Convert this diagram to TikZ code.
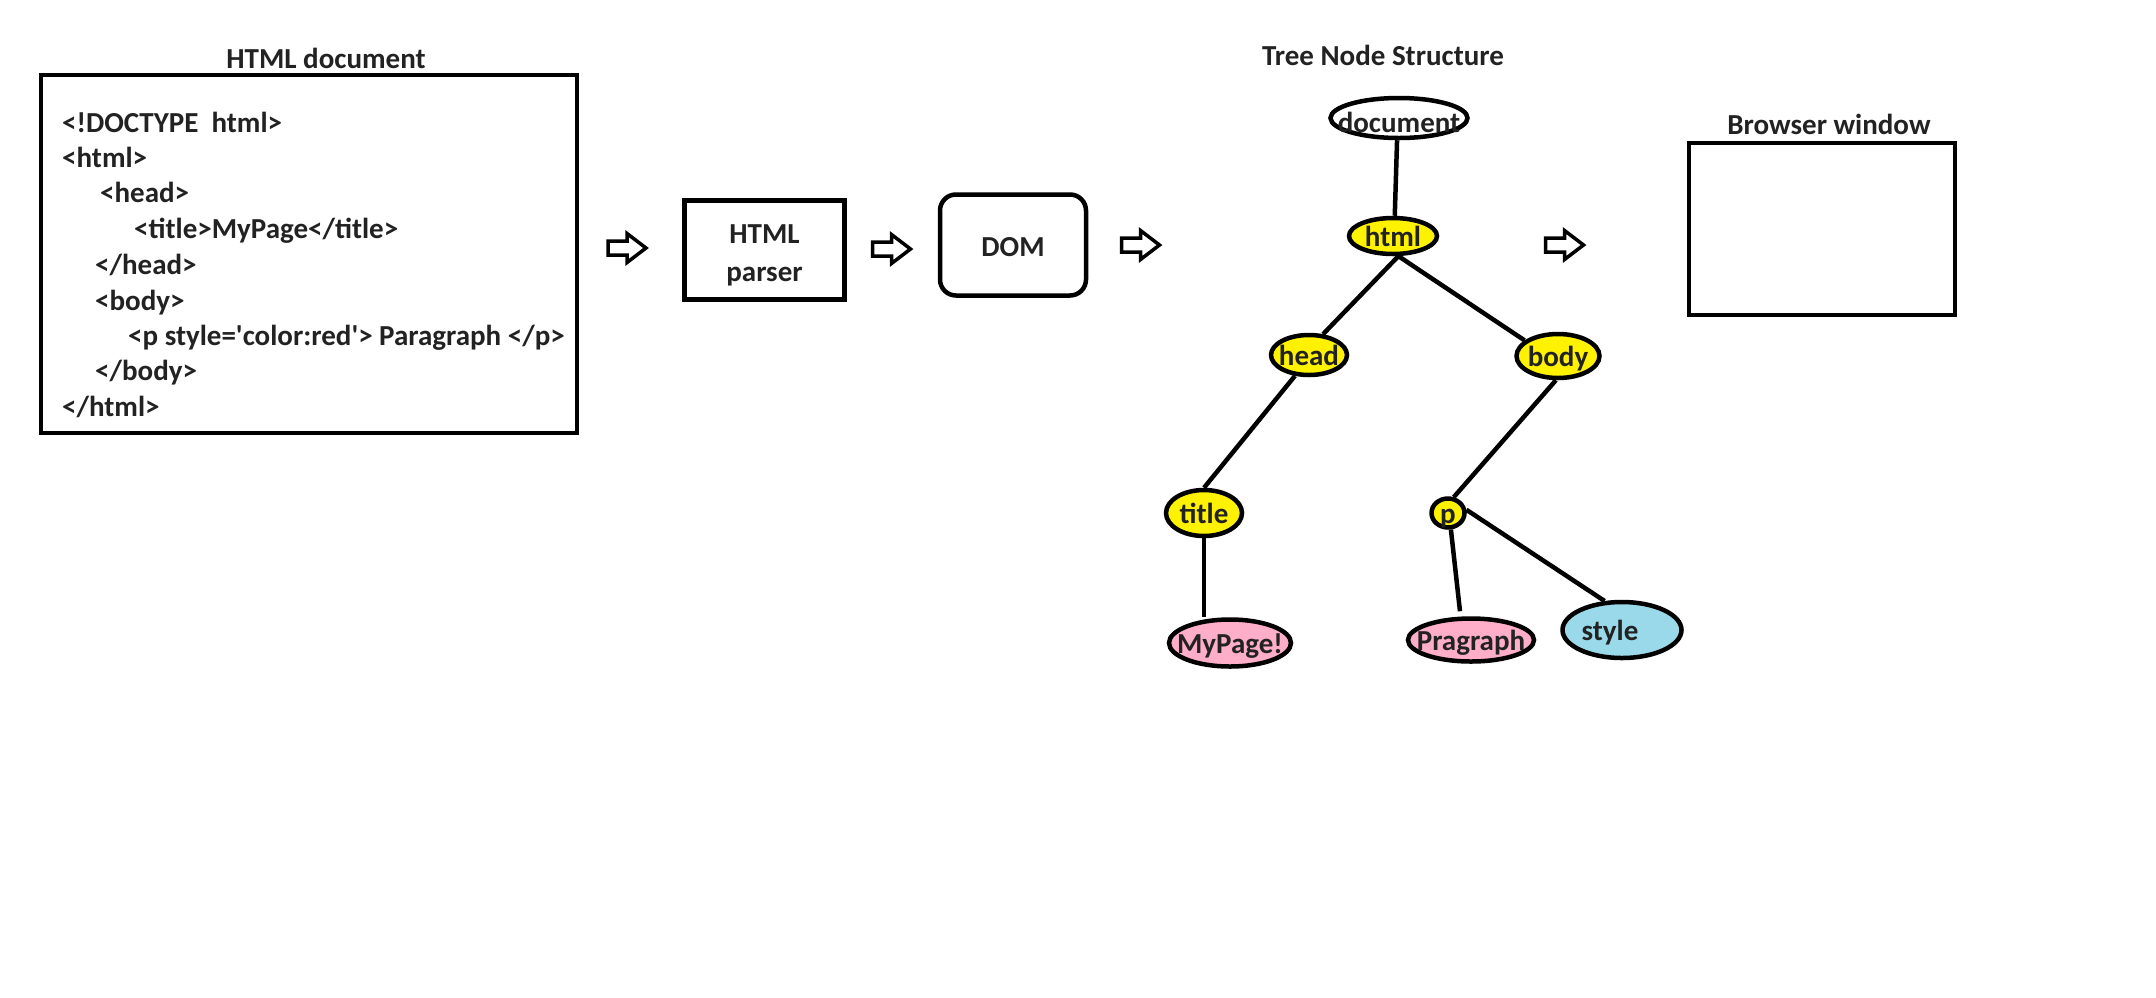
\documentclass[tikz,border=0pt]{standalone}
\usepackage{fontspec}
\setmainfont{Carlito}[Ligatures=TeXOff]
\usetikzlibrary{shapes.geometric}
\definecolor{nodeyellow}{HTML}{FFF200}
\definecolor{nodepink}{HTML}{FFAEC9}
\definecolor{nodeblue}{HTML}{99D9EA}
\definecolor{txt}{HTML}{222222}
\newcommand\tl[2][0pt]{\raisebox{-10pt}[0pt][0pt]{\makebox[0pt]{\hspace{#1}#2\hspace{-#1}}}}
\newcommand\blockarrow[2]{\draw[barrow] (#1,#2) ++(-19,-7) -- ++(19,0) -- ++(0,-7.5) -- ++(19,14.5) -- ++(-19,14.5) -- ++(0,-7.5) -- ++(-19,0) -- cycle;}
\begin{document}
\begin{tikzpicture}[x=1pt,y=-1pt,
  font=\fontsize{29}{34}\selectfont\bfseries, text=txt,
  box/.style={draw, line width=4.5pt, inner sep=0pt},
  tn/.style={ellipse, draw, line width=4.5pt, inner sep=0pt},
  ttl/.style={anchor=base, inner sep=0pt},
  codeline/.style={anchor=base west, inner sep=0pt},
  edge/.style={line width=4.5pt},
  barrow/.style={draw, line width=3.5pt, fill=white, line join=miter}]
\useasboundingbox[fill=white] (0,0) rectangle (2156,997);

% HTML document
\node[ttl] (doctitle) at (326,68) {HTML document};
\node[box, minimum width=536pt, minimum height=358pt] (htmldoc) at (309,254) {};
\node[codeline] (c1) at (62,132) {<!DOCTYPE\ \ html>};
\node[codeline] (c2) at (62,167) {<html>};
\node[codeline] (c3) at (100,202) {<head>};
\node[codeline] (c4) at (134,238) {<title>MyPage</title>};
\node[codeline] (c5) at (95,274) {</head>};
\node[codeline] (c6) at (95,310) {<body>};
\node[codeline] (c7) at (128,345) {<p style='color:red'> Paragraph </p>};
\node[codeline] (c8) at (95,380) {</body>};
\node[codeline] (c9) at (62,416) {</html>};

% parser and DOM
\node[box, minimum width=160pt, minimum height=99pt,
  label={[name=parsertext, align=center, inner sep=0pt, yshift=-5pt,
    font=\fontsize{29}{38}\selectfont\bfseries]center:HTML\\parser}] (parser) at (764.5,250) {};
\node[box, rounded corners=16pt, minimum width=146pt, minimum height=101pt] (dom) at (1013,245)
  {\raisebox{-11pt}[0pt][0pt]{\makebox[0pt]{DOM}}};

% block arrows
\blockarrow{627}{248}
\blockarrow{891.5}{249}
\blockarrow{1140.5}{245}
\blockarrow{1564.5}{245}

% tree
\node[ttl] (treetitle) at (1383,65) {Tree Node Structure};
\node[tn, minimum width=137pt, minimum height=40pt] (document) at (1399,118) {\raisebox{-14pt}[0pt][0pt]{\makebox[0pt]{document}}};
\node[tn, fill=nodeyellow, minimum width=88pt, minimum height=36pt] (html) at (1393,236) {\tl{html}};
\node[tn, fill=nodeyellow, minimum width=76pt, minimum height=40pt] (head) at (1309,355) {\tl{head}};
\node[tn, fill=nodeyellow, minimum width=83pt, minimum height=44pt] (body) at (1558,356) {\tl{body}};
\node[tn, fill=nodeyellow, minimum width=76pt, minimum height=46pt] (title) at (1204,513) {\tl{title}};
\node[tn, fill=nodeyellow, minimum width=33pt, minimum height=29pt] (p) at (1448,513) {\tl{p}};
\node[tn, fill=nodepink, minimum width=122pt, minimum height=47pt] (mypage) at (1230,643) {\tl{MyPage!}};
\node[tn, fill=nodepink, minimum width=126pt, minimum height=43pt] (pragraph) at (1471,640) {\tl{Pragraph}};
\node[tn, fill=nodeblue, minimum width=119pt, minimum height=56pt] (style) at (1622,630) {\tl[-12pt]{style}};

\draw[edge] (document.-95) -- (html.85);
\draw[edge] (html.-75) -- (head.56);
\draw[edge] (html.-75) -- (body.155);
\draw[edge] (head.-124) -- (title.north);
\draw[edge] (title.south) -- (title.south |- mypage.north);
\draw[edge] (body.-95) -- (p.70);
\draw[edge] (p.-80) -- ([xshift=-11pt,yshift=5pt]pragraph.north);
\draw[edge] (p.10) -- (style.121);

% browser window
\node[ttl] (brtitle) at (1829,134) {Browser window};
\node[box, minimum width=266pt, minimum height=172pt] (browser) at (1822,229) {};
\end{tikzpicture}
\end{document}
